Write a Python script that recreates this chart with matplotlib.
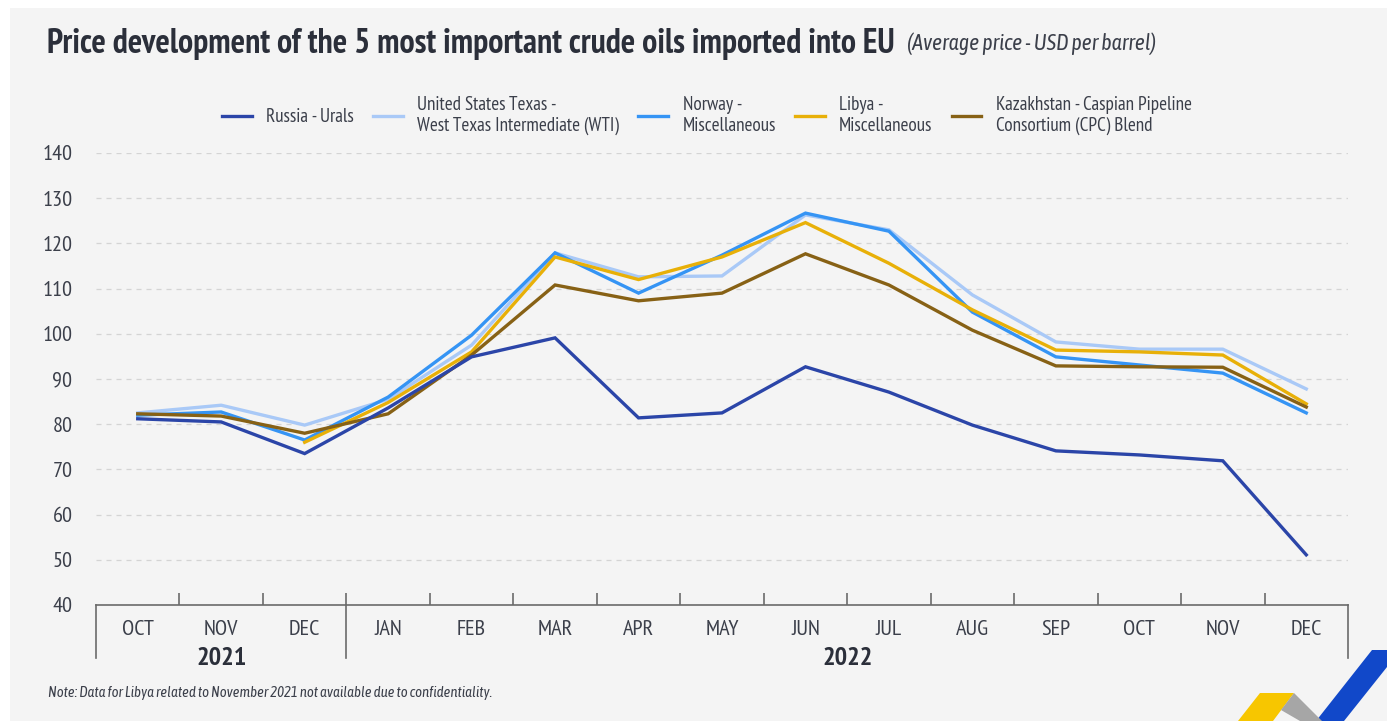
import numpy as np
import matplotlib
matplotlib.use("Agg")
import matplotlib.pyplot as plt
from matplotlib import font_manager
from matplotlib.patches import Polygon

months = ["OCT", "NOV", "DEC", "JAN", "FEB", "MAR", "APR", "MAY",
          "JUN", "JUL", "AUG", "SEP", "OCT", "NOV", "DEC"]
years = ["2021", "2022"]
year_len = [3, 12]

russia = [81.2, 80.5, 73.5, 83.6, 94.9, 99.1, 81.4, 82.5, 92.7, 87.1, 79.8, 74.1, 73.2, 71.9, 51.1]
wti = [82.5, 84.2, 79.8, 85.5, 97.5, 117.9, 112.6, 112.8, 126.3, 123.0, 108.6, 98.2, 96.6, 96.6, 87.8]
norway = [82.0, 82.7, 76.5, 86.0, 99.7, 117.9, 109.0, 117.4, 126.7, 122.7, 104.8, 94.9, 93.1, 91.3, 82.5]
libya = [82.0, np.nan, 76.0, 84.8, 96.0, 117.0, 112.0, 117.0, 124.6, 115.6, 105.3, 96.4, 96.0, 95.3, 84.5]
kazakh = [82.3, 81.8, 78.0, 82.3, 95.3, 110.8, 107.3, 109.0, 117.7, 110.8, 100.8, 92.9, 92.7, 92.6, 83.8]

names = ["Russia - Urals",
         "United States Texas -\nWest Texas Intermediate (WTI)",
         "Norway -\nMiscellaneous",
         "Libya -\nMiscellaneous",
         "Kazakhstan - Caspian Pipeline\nConsortium (CPC) Blend"]
colors = ["#2b45a8", "#a9c9f7", "#3594f4", "#e8b008", "#876115"]


def pick(cands):
    have = {f.name for f in font_manager.fontManager.ttflist}
    for c in cands:
        if c in have:
            return c
    return "DejaVu Sans"


FONT = pick(["PT Sans Narrow", "Sofia Sans Condensed", "Liberation Sans Narrow"])
FONT_IT = pick(["Asap Condensed", "Sofia Sans Condensed", "IBM Plex Sans Condensed"])
plt.rcParams["font.family"] = [FONT, "DejaVu Sans"]

DARK = "#2b2f3a"
GREY = "#3b3f4a"
AXC = "#6a6a6a"
W, H = 1387, 721

fig = plt.figure(figsize=(13.87, 7.21), dpi=100)
fig.patch.set_facecolor("white")
fig.add_artist(plt.Rectangle((10 / W, 0), 1, 1 - 8 / H, transform=fig.transFigure,
                             facecolor="#f4f4f4", edgecolor="none", zorder=-10))


def px_poly(pts, color):
    # decoration in the corner, given in pixel coords from top-left
    xy = [(px / W, 1 - py / H) for px, py in pts]
    fig.add_artist(Polygon(xy, closed=True, transform=fig.transFigure,
                           facecolor=color, edgecolor="none", zorder=-5))


px_poly([(1316, 721), (1372, 650), (1387, 650), (1387, 667), (1344, 721)], "#1148c9")
px_poly([(1238, 721), (1260, 693), (1294, 693), (1273, 721)], "#f7c600")
px_poly([(1281, 710), (1294, 693), (1322, 721), (1300, 721)], "#a6a6a6")

ax = fig.add_axes([96 / W, 1 - 605 / H, 1252 / W, 452 / H])
ax.set_facecolor("none")
x = np.arange(len(months))
data = [russia, wti, norway, libya, kazakh]
handles = []
for i, (series, c, n) in enumerate(zip(data, colors, names)):
    ln, = ax.plot(x, series, color=c, lw=2.4, label=n, zorder=4 if i == 0 else 3,
                  solid_joinstyle="miter")
    handles.append(ln)

ax.set_xlim(-0.5, len(months) - 0.5)
ax.set_ylim(40, 140)
ax.set_yticks(range(40, 141, 10))
ax.yaxis.grid(True, ls=(0, (4, 4)), color="#d4d4d4", lw=0.9)
ax.set_axisbelow(True)
for s in ["top", "right", "left"]:
    ax.spines[s].set_visible(False)
ax.spines["bottom"].set_color(AXC)
ax.spines["bottom"].set_linewidth(1.2)
ax.tick_params(axis="y", length=0, labelsize=16, labelcolor=GREY, pad=17)
ax.set_xticks(x)
ax.set_xticklabels(months)
ax.tick_params(axis="x", length=0, labelsize=16, labelcolor=GREY, pad=10.5)
ax.set_xticks(np.arange(0.5, len(months) - 1, 1), minor=True)
ax.tick_params(axis="x", which="minor", length=9, width=1.2, color=AXC, direction="in")

# year separators and labels below the axis
tr = ax.get_xaxis_transform()
start = -0.5
for yr, n in zip(years, year_len):
    ax.plot([start, start], [0, -0.118], transform=tr, color=AXC, lw=1.2, clip_on=False)
    ax.text(start + n / 2, -0.118, yr, transform=tr, ha="center", va="center",
            fontsize=19, fontweight="bold", color=DARK)
    start += n
ax.plot([start, start], [0, -0.118], transform=tr, color=AXC, lw=1.2, clip_on=False)

fig.text(47 / W, 1 - 44 / H,
         "Price development of the 5 most important crude oils imported into EU",
         fontsize=24.3, fontweight="bold", color=DARK, va="center")
fig.text(907 / W, 1 - 44 / H, "(Average price - USD per barrel)", fontsize=15.8,
         style="italic", family=[FONT_IT, "DejaVu Sans"], color=GREY, va="center")
fig.text(48 / W, 1 - 693 / H,
         "Note: Data for Libya related to November 2021 not available due to confidentiality.",
         fontsize=10.6, style="italic", family=[FONT_IT, "DejaVu Sans"], color=GREY, va="center")

fig.legend(handles=handles, loc="center", bbox_to_anchor=(707 / W, 1 - 115.5 / H), ncol=5,
           frameon=False, fontsize=13.8, handlelength=1.55, handletextpad=0.75,
           columnspacing=1.0, labelcolor=GREY, labelspacing=0.1)

fig.savefig("out.png", dpi=100)
